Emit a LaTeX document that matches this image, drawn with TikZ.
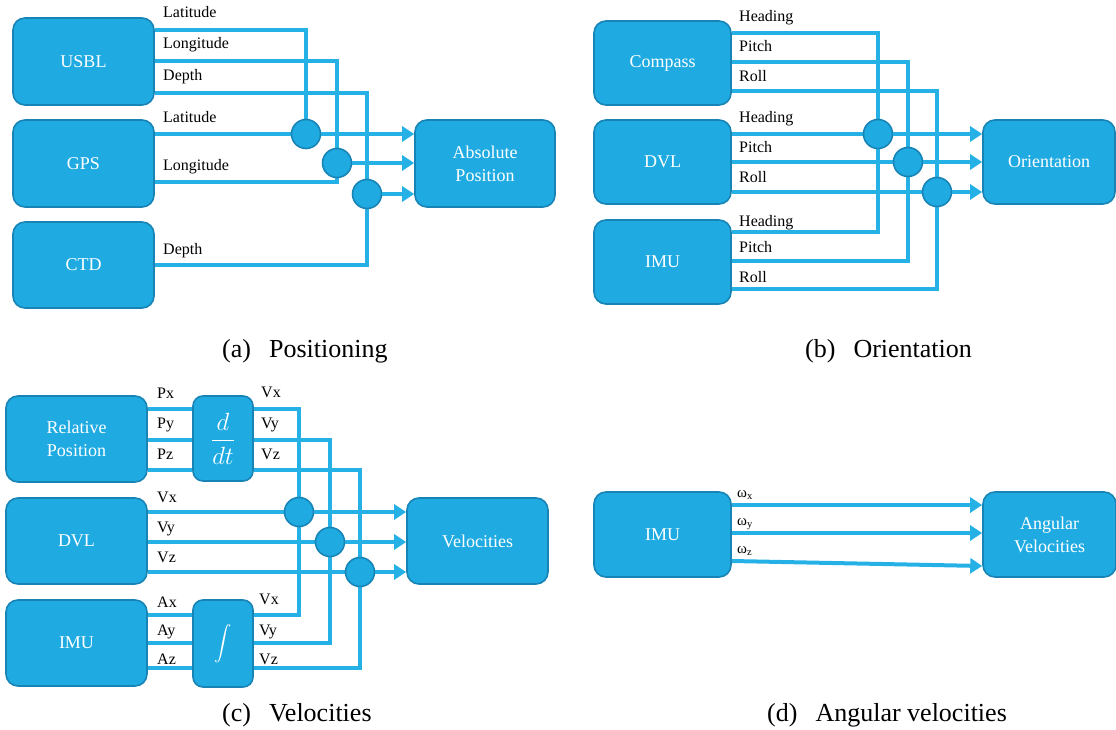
\documentclass[tikz,border=0pt]{standalone}
\usepackage{exscale}
\usepackage{fontspec}
\setmainfont{Liberation Serif}
\usetikzlibrary{arrows.meta}
\definecolor{boxfill}{RGB}{31,171,226}
\definecolor{boxedge}{RGB}{24,132,182}
\definecolor{wirecol}{RGB}{38,177,230}
\pgfdeclarelayer{wires}
\pgfsetlayers{wires,main}
\begin{document}
\begin{tikzpicture}[x=1pt,y=-1pt,
  box/.style={draw=boxedge, fill=boxfill, line width=1.6pt, rounded corners=12pt,
    text=white, align=center, font=\fontsize{18}{23}\selectfont, inner sep=0pt},
  junction/.style={circle, draw=boxedge, fill=boxfill, line width=1.6pt,
    minimum size=29pt, inner sep=0pt},
  wire/.style={draw=wirecol, line width=4pt},
  feed/.style={wire, -{Triangle[length=12pt,width=15pt]}},
  sig/.style={anchor=base west, font=\fontsize{16}{19}\selectfont, inner sep=0pt},
  omega/.style={anchor=base west, font=\fontsize{15}{18}\selectfont, inner sep=0pt},
  caption/.style={anchor=base west, font=\fontsize{26}{31}\selectfont, inner sep=0pt}
]
\useasboundingbox (0,0) rectangle (1116,730);

% ---------------- (a) Positioning ----------------
\node[box, minimum width=141pt, minimum height=87pt] (usbl) at (83.5,61.5) {USBL};
\node[box, minimum width=141pt, minimum height=87pt] (gps) at (83.5,163.5) {GPS};
\node[box, minimum width=141pt, minimum height=86pt] (ctd) at (83.5,265) {CTD};
\node[box, minimum width=140pt, minimum height=87pt] (abspos) at (485,163.5) {Absolute\\Position};
\node[junction] (ja1) at (306,134) {};
\node[junction] (ja2) at (337,163) {};
\node[junction] (ja3) at (367,194) {};
\begin{pgfonlayer}{wires}
  \draw[wire] (usbl.east|-0,30) -| (ja1.center);
  \draw[wire] (usbl.east|-0,61) -| (ja2.center) |- (gps.east|-0,182);
  \draw[wire] (usbl.east|-0,93) -| (ja3.center) |- (ctd.east|-0,265);
  \draw[wire] (gps.east|-ja1) -- (ja1.center);
\end{pgfonlayer}
\draw[feed] (ja1) -- (abspos.west|-ja1);
\draw[feed] (ja2) -- (abspos.west|-ja2);
\draw[feed] (ja3) -- (abspos.west|-ja3);
\node[sig] (la1) at (163,18) {Latitude};
\node[sig] (la2) at (163,49) {Longitude};
\node[sig] (la3) at (163,81) {Depth};
\node[sig] (la4) at (163,123) {Latitude};
\node[sig] (la5) at (163,171) {Longitude};
\node[sig] (la6) at (163,254) {Depth};
\node[caption] (capa) at (222,357) {(a)\hspace{18pt}Positioning};

% ---------------- (b) Orientation ----------------
\node[box, minimum width=137pt, minimum height=84pt] (compass) at (662.5,63) {Compass};
\node[box, minimum width=137pt, minimum height=84pt] (dvlb) at (662.5,162) {DVL};
\node[box, minimum width=137pt, minimum height=84pt] (imub) at (662.5,262) {IMU};
\node[box, minimum width=132pt, minimum height=84pt] (orient) at (1049,162) {Orientation};
\node[junction] (jb1) at (878,134) {};
\node[junction] (jb2) at (908,162) {};
\node[junction] (jb3) at (937,192) {};
\begin{pgfonlayer}{wires}
  \draw[wire] (compass.east|-0,33) -| (jb1.center) |- (imub.east|-0,232);
  \draw[wire] (compass.east|-0,62) -| (jb2.center) |- (imub.east|-0,261);
  \draw[wire] (compass.east|-0,91) -| (jb3.center) |- (imub.east|-0,289);
  \draw[wire] (dvlb.east|-jb1) -- (jb1.center);
  \draw[wire] (dvlb.east|-jb2) -- (jb2.center);
  \draw[wire] (dvlb.east|-jb3) -- (jb3.center);
\end{pgfonlayer}
\draw[feed] (jb1) -- (orient.west|-jb1);
\draw[feed] (jb2) -- (orient.west|-jb2);
\draw[feed] (jb3) -- (orient.west|-jb3);
\node[sig] (lb1) at (739,22) {Heading};
\node[sig] (lb2) at (739,52) {Pitch};
\node[sig] (lb3) at (739,82) {Roll};
\node[sig] (lb4) at (739,123) {Heading};
\node[sig] (lb5) at (739,153) {Pitch};
\node[sig] (lb6) at (739,183) {Roll};
\node[sig] (lb7) at (739,226) {Heading};
\node[sig] (lb8) at (739,252) {Pitch};
\node[sig] (lb9) at (739,282) {Roll};
\node[caption] (capb) at (805,357) {(b)\hspace{18pt}Orientation};

% ---------------- (c) Velocities ----------------
\node[box, minimum width=141pt, minimum height=86pt] (relpos) at (76.5,439) {Relative\\Position};
\node[box, minimum width=60pt, minimum height=85pt, rounded corners=10pt] (ddt) at (223,438.5)
  {\fontsize{24}{28}\selectfont$\displaystyle\frac{d}{dt}$};
\node[box, minimum width=141pt, minimum height=86pt] (dvlc) at (76.5,541) {DVL};
\node[box, minimum width=141pt, minimum height=86pt] (imuc) at (76.5,643) {IMU};
\node[box, minimum width=60pt, minimum height=87pt, rounded corners=10pt] (intg) at (223,643.5)
  {\fontsize{19}{22}\selectfont$\displaystyle\int$};
\node[box, minimum width=141pt, minimum height=86pt] (vel) at (477.5,541) {Velocities};
\node[junction] (jc1) at (299,512) {};
\node[junction] (jc2) at (330,542) {};
\node[junction] (jc3) at (360,572) {};
\begin{pgfonlayer}{wires}
  \draw[wire] (relpos.east|-0,409) -- (ddt.west|-0,409);
  \draw[wire] (relpos.east|-0,440) -- (ddt.west|-0,440);
  \draw[wire] (relpos.east|-0,470) -- (ddt.west|-0,470);
  \draw[wire] (imuc.east|-0,615) -- (intg.west|-0,615);
  \draw[wire] (imuc.east|-0,643) -- (intg.west|-0,643);
  \draw[wire] (imuc.east|-0,668) -- (intg.west|-0,668);
  \draw[wire] (ddt.east|-0,409) -| (jc1.center) |- (intg.east|-0,615);
  \draw[wire] (ddt.east|-0,440) -| (jc2.center) |- (intg.east|-0,643);
  \draw[wire] (ddt.east|-0,470) -| (jc3.center) |- (intg.east|-0,668);
  \draw[wire] (dvlc.east|-jc1) -- (jc1.center);
  \draw[wire] (dvlc.east|-jc2) -- (jc2.center);
  \draw[wire] (dvlc.east|-jc3) -- (jc3.center);
\end{pgfonlayer}
\draw[feed] (jc1) -- (vel.west|-jc1);
\draw[feed] (jc2) -- (vel.west|-jc2);
\draw[feed] (jc3) -- (vel.west|-jc3);
\node[sig] (lc1) at (157,398) {Px};
\node[sig] (lc2) at (157,428) {Py};
\node[sig] (lc3) at (157,459) {Pz};
\node[sig] (lc4) at (261,397) {Vx};
\node[sig] (lc5) at (261,428) {Vy};
\node[sig] (lc6) at (261,459) {Vz};
\node[sig] (lc7) at (157,502) {Vx};
\node[sig] (lc8) at (157,532) {Vy};
\node[sig] (lc9) at (157,562) {Vz};
\node[sig] (lc10) at (157,607) {Ax};
\node[sig] (lc11) at (157,635) {Ay};
\node[sig] (lc12) at (157,664) {Az};
\node[sig] (lc13) at (259,604) {Vx};
\node[sig] (lc14) at (259,635) {Vy};
\node[sig] (lc15) at (259,664) {Vz};
\node[caption] (capc) at (222,721) {(c)\hspace{18pt}Velocities};

% ---------------- (d) Angular velocities ----------------
\node[box, minimum width=137pt, minimum height=85pt] (imud) at (662.5,534.5) {IMU};
\node[box, minimum width=133pt, minimum height=85pt] (angvel) at (1049.5,534.5) {Angular\\Velocities};
\draw[feed] (imud.east|-0,505) -- (angvel.west|-0,505);
\draw[feed] (imud.east|-0,533) -- (angvel.west|-0,533);
\draw[feed] (imud.east|-0,561) -- (angvel.west|-0,566);
\node[omega] (ld1) at (737,497) {ω\textsubscript{x}};
\node[omega] (ld2) at (737,525) {ω\textsubscript{y}};
\node[omega] (ld3) at (737,553) {ω\textsubscript{z}};
\node[caption] (capd) at (767,721) {(d)\hspace{18pt}Angular velocities};
\end{tikzpicture}
\end{document}
